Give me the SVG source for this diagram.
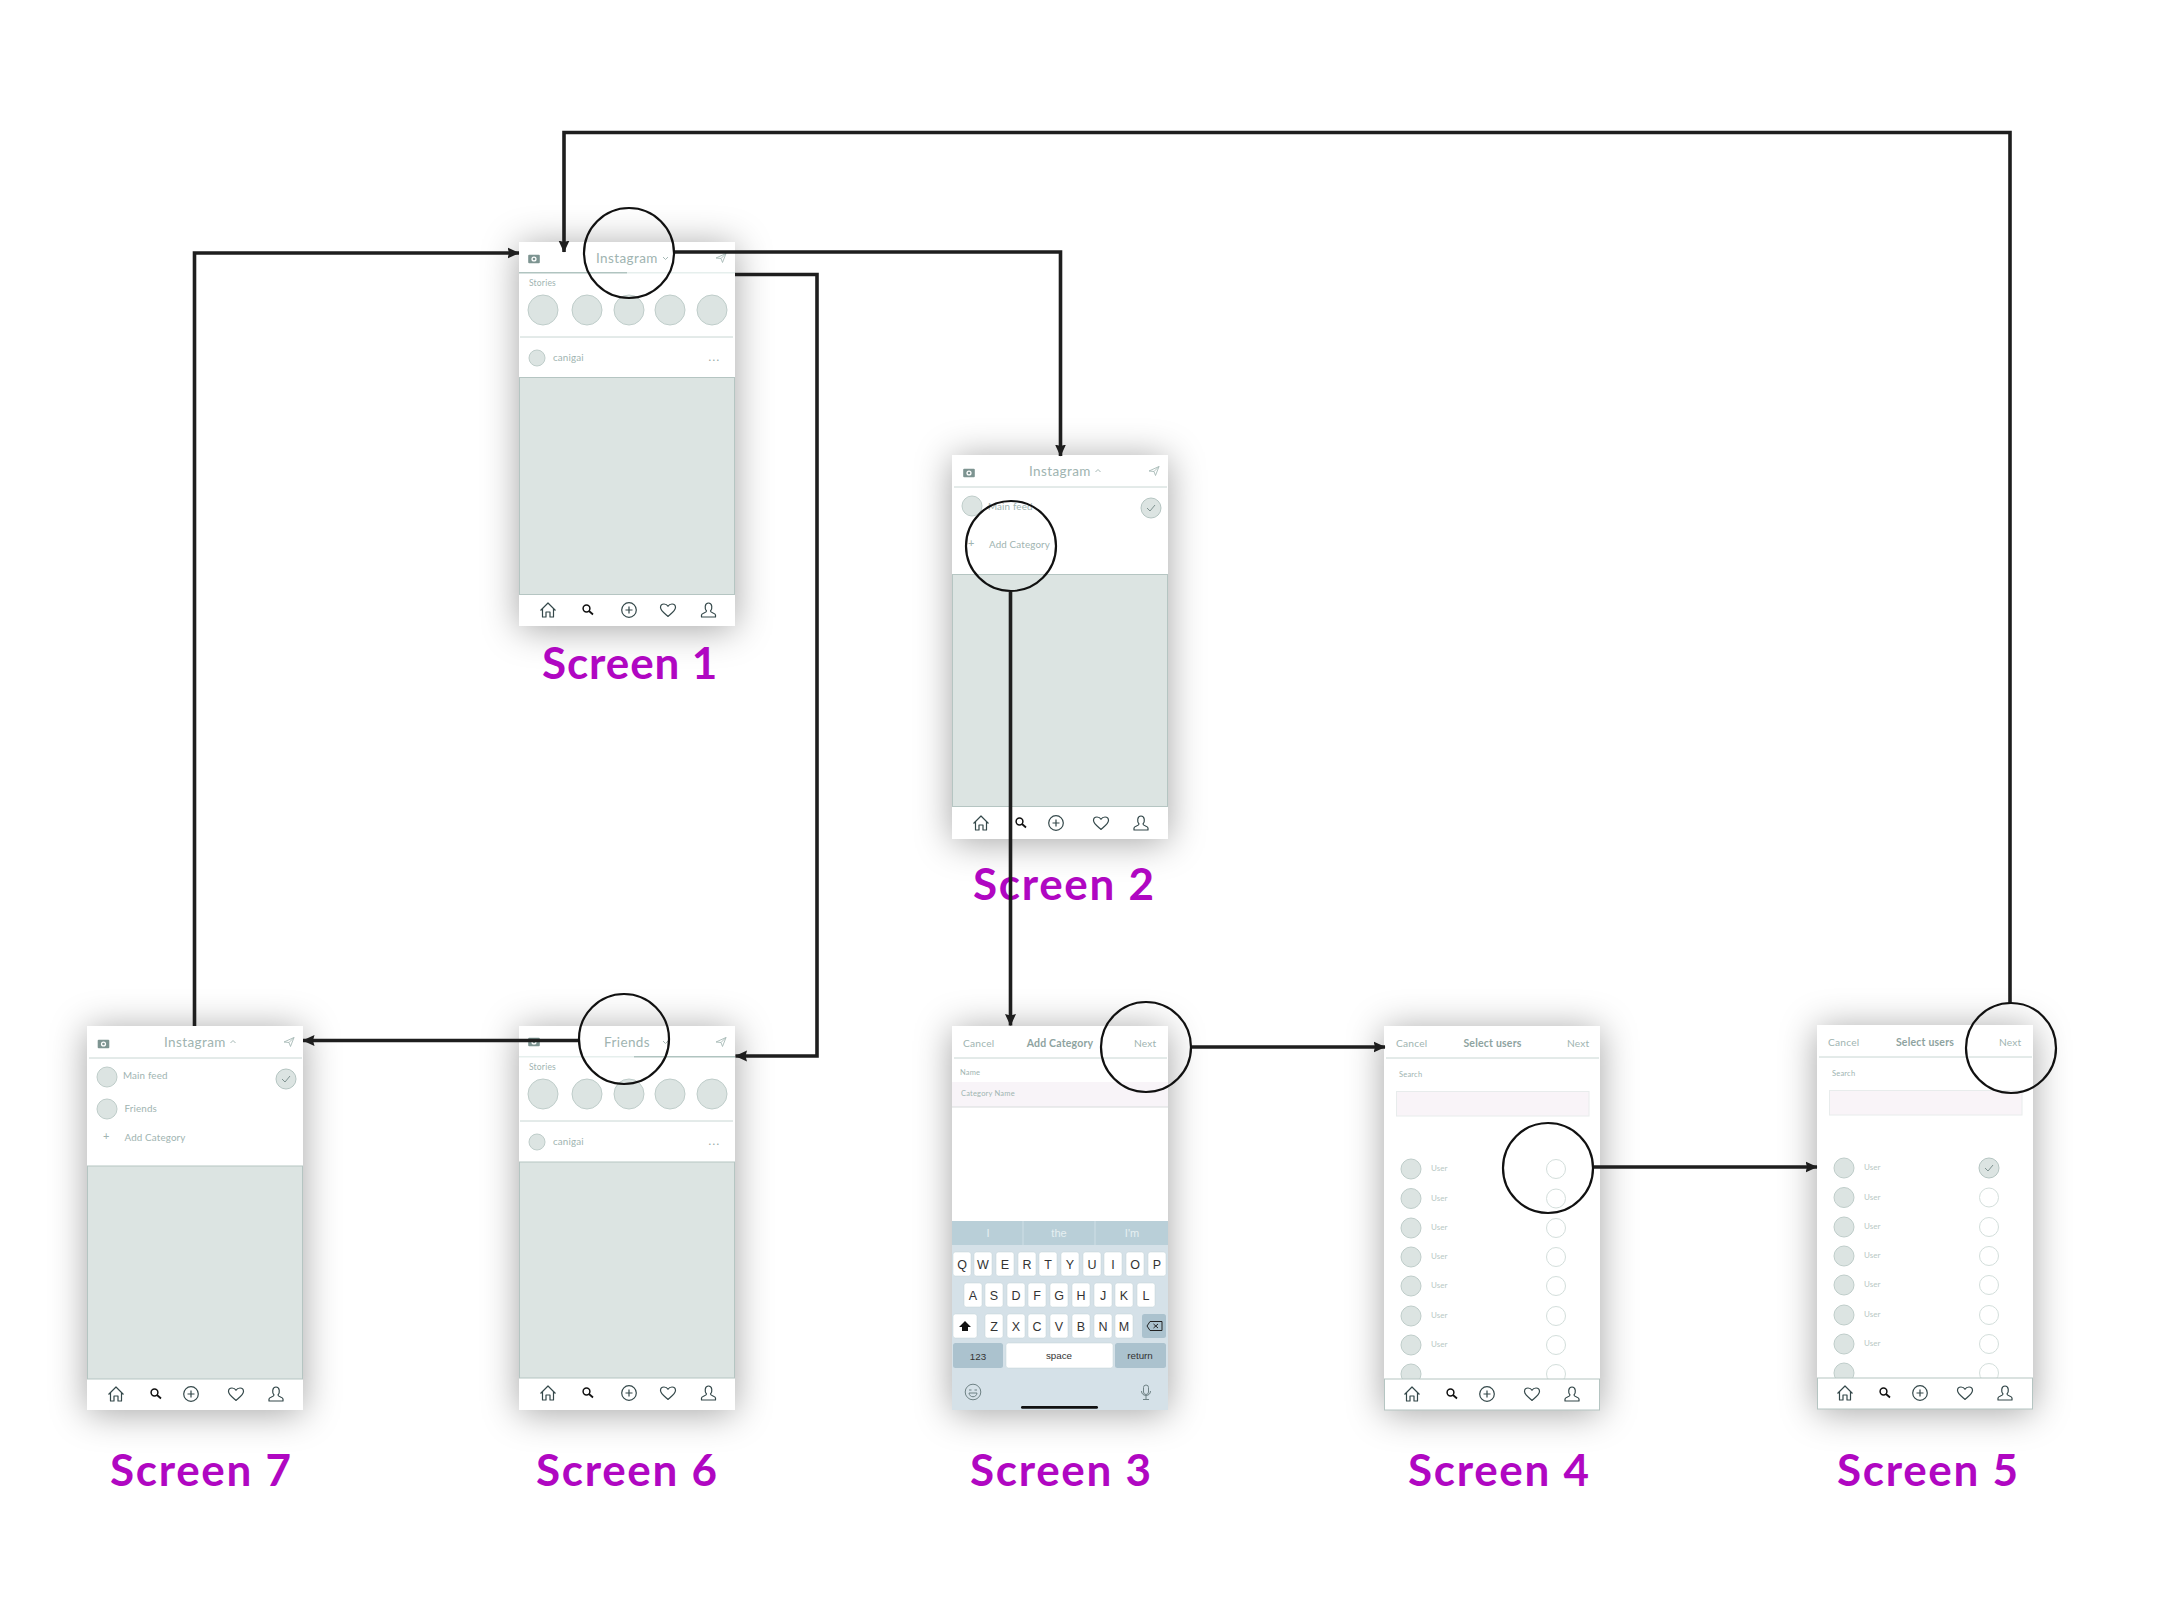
<svg xmlns="http://www.w3.org/2000/svg" xmlns:xlink="http://www.w3.org/1999/xlink" width="2160" height="1620" viewBox="0 0 2160 1620">
<style>
text{font-family:"Lato","Open Sans","Liberation Sans",sans-serif;fill:#a0b4b1}
.screen{fill:#fff;filter:url(#sh)}
.img{fill:#dce4e2;stroke:#b5c5c2;stroke-width:1}
.av{fill:#dce4e2;stroke:#bfcdca;stroke-width:1}
.radio{fill:#fff;stroke:#d3dedb;stroke-width:1}
.sep{stroke:#c8d6d3;stroke-width:1;fill:none}
.tabbar{fill:#fff;stroke:#b5c5c2;stroke-width:1}
.ic{fill:none;stroke:#34484a;stroke-width:1.2;stroke-linejoin:round}
.title{font-size:13.5px;letter-spacing:.4px}
.lbl{font-size:8.5px;letter-spacing:.2px}
.row{font-size:9.8px;letter-spacing:.15px}
.nav{font-size:10.2px;letter-spacing:.2px}
.navb{font-size:10.5px;font-weight:700;fill:#8ea3a0;letter-spacing:.2px}
.user{font-size:8px;fill:#b8c8c5}
.cap{font-size:44px;font-weight:700;fill:#b007c2;letter-spacing:1.7px}
.key{fill:#fff;stroke:#c2d0d6;stroke-width:.5}
.kdark{fill:#abc2ce}
.kt{font-family:"Liberation Sans",sans-serif;font-size:12.5px;fill:#333;text-anchor:middle}
.kts{font-family:"Liberation Sans",sans-serif;font-size:9.8px;fill:#333;text-anchor:middle}
.sug{font-family:"Liberation Sans",sans-serif;font-size:11px;fill:#e6eff2;text-anchor:middle}
.conn{fill:none;stroke:#1e1e1e;stroke-width:3.6;stroke-linejoin:miter}
.lens{fill:none;stroke:#111;stroke-width:2.2}
</style>
<defs>
<filter id="sh" x="-40%" y="-25%" width="180%" height="150%"><feDropShadow dx="0" dy="3" stdDeviation="18" flood-color="#000" flood-opacity=".36"/></filter>
<marker id="arr" markerUnits="userSpaceOnUse" markerWidth="12" markerHeight="12" refX="11.5" refY="6" orient="auto"><path d="M0,.5 L12,6 L0,11.5 L1.5,6 Z" fill="#1e1e1e"/></marker>
<g id="i-home"><path class="ic" d="M-7.5,.5 L0,-7 L7.5,.5 M-5.5,-1.5 V7 H-2 V2 H2 V7 H5.5 V-1.5"/></g>
<g id="i-search"><circle class="ic" cx="-1.5" cy="-1.5" r="3.4" style="stroke:#111;stroke-width:1.5"/><path class="ic" d="M1,1 L5,4.5" style="stroke:#111;stroke-width:1.8"/></g>
<g id="i-plus"><circle class="ic" r="7.3"/><path class="ic" d="M-3.5,0 H3.5 M0,-3.5 V3.5"/></g>
<g id="i-heart"><path class="ic" d="M0,6.5 C-4,3 -7.5,.5 -7.5,-2.5 C-7.5,-5 -5.5,-6 -4,-6 C-2,-6 -.7,-5 0,-3.7 C.7,-5 2,-6 4,-6 C5.5,-6 7.5,-5 7.5,-2.5 C7.5,.5 4,3 0,6.5 Z"/></g>
<g id="i-user"><path class="ic" d="M-2,1 C-4,-1 -4,-7 0,-7 C4,-7 4,-1 2,1 C2,3 7,3 7,5 V7 H-7 V5 C-7,3 -2,3 -2,1 Z"/></g>
<g id="i-cam"><rect x="-5.8" y="-4.3" width="11.6" height="8.6" rx="1" fill="#7d9491"/><circle r="2.6" fill="#fff"/><circle r="1.3" fill="#7d9491"/></g>
<g id="i-send"><path d="M-5,0 L5,-4.5 L1.5,4.5 L0,.5 Z M0,.5 L5,-4.5" fill="none" stroke="#a6b9b6" stroke-width=".9" stroke-linejoin="round"/></g>
<g id="i-check"><circle class="av" r="10" style="stroke:#b5c5c2"/><path d="M-4,0 L-1,3 L4,-3" fill="none" stroke="#7f9290" stroke-width="1"/></g>
<g id="tabs"><use href="#i-home" x="29"/><use href="#i-search" x="69"/><use href="#i-plus" x="110"/><use href="#i-heart" x="149"/><use href="#i-user" x="189.5"/></g>
<g id="tabs2"><use href="#i-home" x="29"/><use href="#i-search" x="69"/><use href="#i-plus" x="104"/><use href="#i-heart" x="149"/><use href="#i-user" x="189"/></g>
<g id="users">
<circle class="av" cx="27" cy="0" r="10"/><circle class="av" cx="27" cy="29.5" r="10"/><circle class="av" cx="27" cy="59" r="10"/><circle class="av" cx="27" cy="88" r="10"/><circle class="av" cx="27" cy="117" r="10"/><circle class="av" cx="27" cy="147" r="10"/><circle class="av" cx="27" cy="176" r="10"/><circle class="av" cx="27" cy="205" r="10"/>
<text class="user" x="47" y="2">User</text><text class="user" x="47" y="31.5">User</text><text class="user" x="47" y="61">User</text><text class="user" x="47" y="90">User</text><text class="user" x="47" y="119">User</text><text class="user" x="47" y="148.5">User</text><text class="user" x="47" y="177.5">User</text>
<circle class="radio" cx="172" cy="29.5" r="9.5"/><circle class="radio" cx="172" cy="59" r="9.5"/><circle class="radio" cx="172" cy="88" r="9.5"/><circle class="radio" cx="172" cy="117" r="9.5"/><circle class="radio" cx="172" cy="147" r="9.5"/><circle class="radio" cx="172" cy="176" r="9.5"/><circle class="radio" cx="172" cy="205" r="9.5"/>
</g>
</defs>
<rect width="2160" height="1620" fill="#fff"/>

<g id="screen-1">
<rect class="screen" x="519" y="242" width="216" height="384"/>
<use href="#i-cam" x="534" y="259"/>
<text class="title" x="596" y="263">Instagram</text>
<path d="M663,257 L665.5,259.5 L668,257" fill="none" stroke="#a6b9b6"/>
<use href="#i-send" x="721" y="258"/>
<path d="M519,272.7 H627" stroke="#b0c4c0" stroke-width="1.5"/><path d="M627,272.7 H735" stroke="#e6efed" stroke-width="1.5"/>
<text class="lbl" x="529" y="286">Stories</text>
<circle class="av" cx="543" cy="310" r="15"/><circle class="av" cx="587" cy="310" r="15"/><circle class="av" cx="629" cy="310" r="15"/><circle class="av" cx="670" cy="310" r="15"/><circle class="av" cx="712" cy="310" r="15"/>
<path class="sep" d="M520,337 H733"/>
<circle class="av" cx="537" cy="358" r="8"/>
<text class="row" x="553" y="361">canigai</text>
<text x="708.5" y="361" style="font-size:11px;letter-spacing:1.4px;fill:#8ea3a0">...</text>
<rect class="img" x="519.5" y="377.5" width="215" height="217"/>
<use href="#tabs" x="519" y="610"/>
</g>
<text id="label-1" class="cap" x="542" y="679" style="letter-spacing:.9px">Screen 1</text>

<g id="screen-2">
<rect class="screen" x="952" y="455" width="216" height="384"/>
<use href="#i-cam" x="969" y="473"/>
<text class="title" x="1029" y="476">Instagram</text>
<path d="M1095.5,472 L1098,469.5 L1100.5,472" fill="none" stroke="#a6b9b6"/>
<use href="#i-send" x="1154" y="471"/>
<path class="sep" d="M954,487 H1167"/>
<circle class="av" cx="972" cy="506" r="10"/>
<text class="row" x="988" y="510">Main feed</text>
<use href="#i-check" x="1151" y="508"/>
<text class="row" x="968" y="547" style="font-size:11px">+</text>
<text class="row" x="989" y="548">Add Category</text>
<rect class="img" x="952.5" y="574.5" width="215" height="232"/>
<use href="#tabs2" x="952" y="823"/>
</g>
<text id="label-2" class="cap" x="973" y="900">Screen 2</text>

<g id="screen-3">
<rect class="screen" x="952" y="1026" width="216" height="384"/>
<text class="nav" x="963" y="1047">Cancel</text>
<text class="navb" x="1060" y="1047" text-anchor="middle">Add Category</text>
<text class="nav" x="1134" y="1047">Next</text>
<path class="sep" d="M954,1058 H1167"/>
<text class="lbl" x="960" y="1075" style="font-size:7.5px">Name</text>
<rect x="952" y="1082" width="216" height="25" fill="#f8f4f8"/>
<path d="M952,1107 H1168" stroke="#d8dcdc"/>
<text class="lbl" x="961" y="1096" style="font-size:7.5px">Category Name</text>
<rect x="952" y="1245" width="216" height="165" fill="#d5e1e8"/>
<rect x="952" y="1221" width="216" height="24" fill="#b9cfd8"/>
<path d="M1023,1221 V1245 M1095,1221 V1245" stroke="#cfdfe6"/>
<text class="sug" x="988" y="1237">I</text><text class="sug" x="1059" y="1237">the</text><text class="sug" x="1132" y="1237">I'm</text>
<g id="kb-row1">
<rect class="key" x="953" y="1252" width="18" height="24" rx="2.5"/><rect class="key" x="974" y="1252" width="18" height="24" rx="2.5"/><rect class="key" x="996" y="1252" width="18" height="24" rx="2.5"/><rect class="key" x="1018" y="1252" width="18" height="24" rx="2.5"/><rect class="key" x="1039" y="1252" width="18" height="24" rx="2.5"/><rect class="key" x="1061" y="1252" width="18" height="24" rx="2.5"/><rect class="key" x="1083" y="1252" width="18" height="24" rx="2.5"/><rect class="key" x="1104" y="1252" width="18" height="24" rx="2.5"/><rect class="key" x="1126" y="1252" width="18" height="24" rx="2.5"/><rect class="key" x="1148" y="1252" width="18" height="24" rx="2.5"/>
<text class="kt" x="962" y="1269">Q</text><text class="kt" x="983" y="1269">W</text><text class="kt" x="1005" y="1269">E</text><text class="kt" x="1027" y="1269">R</text><text class="kt" x="1048" y="1269">T</text><text class="kt" x="1070" y="1269">Y</text><text class="kt" x="1092" y="1269">U</text><text class="kt" x="1113" y="1269">I</text><text class="kt" x="1135" y="1269">O</text><text class="kt" x="1157" y="1269">P</text>
</g>
<g id="kb-row2">
<rect class="key" x="964" y="1283" width="18" height="24" rx="2.5"/><rect class="key" x="985" y="1283" width="18" height="24" rx="2.5"/><rect class="key" x="1007" y="1283" width="18" height="24" rx="2.5"/><rect class="key" x="1028" y="1283" width="18" height="24" rx="2.5"/><rect class="key" x="1050" y="1283" width="18" height="24" rx="2.5"/><rect class="key" x="1072" y="1283" width="18" height="24" rx="2.5"/><rect class="key" x="1094" y="1283" width="18" height="24" rx="2.5"/><rect class="key" x="1115" y="1283" width="18" height="24" rx="2.5"/><rect class="key" x="1137" y="1283" width="18" height="24" rx="2.5"/>
<text class="kt" x="973" y="1300">A</text><text class="kt" x="994" y="1300">S</text><text class="kt" x="1016" y="1300">D</text><text class="kt" x="1037" y="1300">F</text><text class="kt" x="1059" y="1300">G</text><text class="kt" x="1081" y="1300">H</text><text class="kt" x="1103" y="1300">J</text><text class="kt" x="1124" y="1300">K</text><text class="kt" x="1146" y="1300">L</text>
</g>
<g id="kb-row3">
<rect class="key" x="953" y="1314" width="24" height="24" rx="2.5"/>
<path d="M965,1321 L971,1327 H968 V1331 H962 V1327 H959 Z" fill="#111"/>
<rect class="key" x="985" y="1314" width="18" height="24" rx="2.5"/><rect class="key" x="1007" y="1314" width="18" height="24" rx="2.5"/><rect class="key" x="1028" y="1314" width="18" height="24" rx="2.5"/><rect class="key" x="1050" y="1314" width="18" height="24" rx="2.5"/><rect class="key" x="1072" y="1314" width="18" height="24" rx="2.5"/><rect class="key" x="1094" y="1314" width="18" height="24" rx="2.5"/><rect class="key" x="1115" y="1314" width="18" height="24" rx="2.5"/>
<text class="kt" x="994" y="1331">Z</text><text class="kt" x="1016" y="1331">X</text><text class="kt" x="1037" y="1331">C</text><text class="kt" x="1059" y="1331">V</text><text class="kt" x="1081" y="1331">B</text><text class="kt" x="1103" y="1331">N</text><text class="kt" x="1124" y="1331">M</text>
<rect class="kdark" x="1142" y="1314" width="24" height="24" rx="2.5"/>
<path d="M1150,1321.5 H1162 V1330.5 H1150 L1147,1326 Z M1153.5,1324 L1158,1328 M1158,1324 L1153.5,1328" fill="none" stroke="#222" stroke-width="1"/>
</g>
<g id="kb-row4">
<rect class="kdark" x="953" y="1343" width="50" height="25" rx="2.5"/>
<rect class="key" x="1006" y="1343" width="107" height="25" rx="2.5"/>
<rect class="kdark" x="1115" y="1343" width="51" height="25" rx="2.5"/>
<text class="kts" x="978" y="1360">123</text><text class="kts" x="1059" y="1359">space</text><text class="kts" x="1140" y="1359">return</text>
</g>
<g fill="none" stroke="#6f8285" stroke-width="1">
<circle cx="973" cy="1392" r="7.8"/><path d="M969,1393 H977 C976.5,1398 969.5,1398 969,1393 Z"/><path d="M969,1390 H971.5 M974.5,1390 H977"/>
<rect x="1143.5" y="1385" width="5" height="9.5" rx="2.5"/><path d="M1141.5,1391 C1141.5,1397 1150.5,1397 1150.5,1391 M1146,1396 V1399 M1143,1399.5 H1149"/>
</g>
<rect x="1021" y="1406" width="77" height="2.8" rx="1.4" fill="#111"/>
</g>
<text id="label-3" class="cap" x="970" y="1486">Screen 3</text>

<g id="screen-4">
<rect class="screen" x="1384" y="1026" width="216" height="384"/>
<text class="nav" x="1396" y="1047">Cancel</text>
<text class="navb" x="1492.5" y="1047" text-anchor="middle">Select users</text>
<text class="nav" x="1567" y="1047">Next</text>
<path class="sep" d="M1386,1058 H1599"/>
<text class="lbl" x="1399" y="1077" style="font-size:7.5px">Search</text>
<rect x="1396.5" y="1091.5" width="192.5" height="24.5" fill="#f9f4f8" stroke="#e8ecec"/>
<use href="#users" x="1384" y="1169"/>
<circle class="radio" cx="1556" cy="1169" r="9.5"/>
<rect class="tabbar" x="1384.5" y="1379" width="215" height="31"/>
<use href="#tabs2" x="1383" y="1394"/>
</g>
<text id="label-4" class="cap" x="1408" y="1486">Screen 4</text>

<g id="screen-5">
<rect class="screen" x="1817" y="1025" width="216" height="384"/>
<text class="nav" x="1828" y="1046">Cancel</text>
<text class="navb" x="1925" y="1046" text-anchor="middle">Select users</text>
<text class="nav" x="1999" y="1046">Next</text>
<path class="sep" d="M1819,1057 H2032"/>
<text class="lbl" x="1832" y="1076" style="font-size:7.5px">Search</text>
<rect x="1829.5" y="1090.5" width="192.5" height="24.5" fill="#f9f4f8" stroke="#e8ecec"/>
<use href="#users" x="1817" y="1168"/>
<use href="#i-check" x="1989" y="1168"/>
<rect class="tabbar" x="1817.5" y="1378" width="215" height="31"/>
<use href="#tabs2" x="1816" y="1393"/>
</g>
<text id="label-5" class="cap" x="1837" y="1486">Screen 5</text>

<g id="screen-6">
<rect class="screen" x="519" y="1026" width="216" height="384"/>
<use href="#i-cam" x="534" y="1042"/>
<text class="title" x="604" y="1047">Friends</text>
<path d="M663,1041 L665.5,1043.5 L668,1041" fill="none" stroke="#a6b9b6"/>
<use href="#i-send" x="721" y="1042"/>
<path d="M519,1056.7 H634" stroke="#e6efed" stroke-width="1.5"/><path d="M634,1056.7 H735" stroke="#b0c4c0" stroke-width="1.5"/>
<text class="lbl" x="529" y="1070">Stories</text>
<circle class="av" cx="543" cy="1094" r="15"/><circle class="av" cx="587" cy="1094" r="15"/><circle class="av" cx="629" cy="1094" r="15"/><circle class="av" cx="670" cy="1094" r="15"/><circle class="av" cx="712" cy="1094" r="15"/>
<path class="sep" d="M520,1121 H733"/>
<circle class="av" cx="537" cy="1142" r="8"/>
<text class="row" x="553" y="1145">canigai</text>
<text x="708.5" y="1145" style="font-size:11px;letter-spacing:1.4px;fill:#8ea3a0">...</text>
<rect class="img" x="519.5" y="1162" width="215" height="216"/>
<use href="#tabs" x="519" y="1393"/>
</g>
<text id="label-6" class="cap" x="536" y="1486">Screen 6</text>

<g id="screen-7">
<rect class="screen" x="87" y="1026" width="216" height="384"/>
<use href="#i-cam" x="103.5" y="1044"/>
<text class="title" x="164" y="1047">Instagram</text>
<path d="M230.5,1043 L233,1040.5 L235.5,1043" fill="none" stroke="#a6b9b6"/>
<use href="#i-send" x="289" y="1042"/>
<path class="sep" d="M89,1058 H302"/>
<circle class="av" cx="107" cy="1077" r="10"/>
<text class="row" x="123" y="1079">Main feed</text>
<use href="#i-check" x="286" y="1079"/>
<circle class="av" cx="107" cy="1109" r="10"/>
<text class="row" x="124.5" y="1112">Friends</text>
<text class="row" x="103" y="1140" style="font-size:11px">+</text>
<text class="row" x="124.5" y="1141">Add Category</text>
<rect class="img" x="87.5" y="1166" width="215" height="213"/>
<use href="#tabs2" x="87" y="1394"/>
</g>
<text id="label-7" class="cap" x="110" y="1486">Screen 7</text>

<g id="connectors">
<path class="conn" marker-end="url(#arr)" d="M2010,1003 V132.5 H564 V252"/>
<path class="conn" marker-end="url(#arr)" d="M194.5,1026 V253 H519"/>
<path class="conn" marker-end="url(#arr)" d="M674,252 H1060.5 V456"/>
<path class="conn" marker-end="url(#arr)" d="M735,274.5 H817 V1056 H735.5"/>
<path class="conn" marker-end="url(#arr)" d="M1010.5,592 V1025.5"/>
<path class="conn" marker-end="url(#arr)" d="M1192,1047 H1385"/>
<path class="conn" marker-end="url(#arr)" d="M1594,1167 H1817"/>
<path class="conn" marker-end="url(#arr)" d="M579,1040.5 H303"/>
</g>
<g id="highlights">
<circle class="lens" cx="629" cy="253" r="45"/>
<circle class="lens" cx="1011" cy="546" r="45"/>
<circle class="lens" cx="1146" cy="1047" r="45"/>
<circle class="lens" cx="1548" cy="1168" r="45"/>
<circle class="lens" cx="2011" cy="1048" r="45"/>
<circle class="lens" cx="624" cy="1039" r="45"/>
</g>
</svg>
